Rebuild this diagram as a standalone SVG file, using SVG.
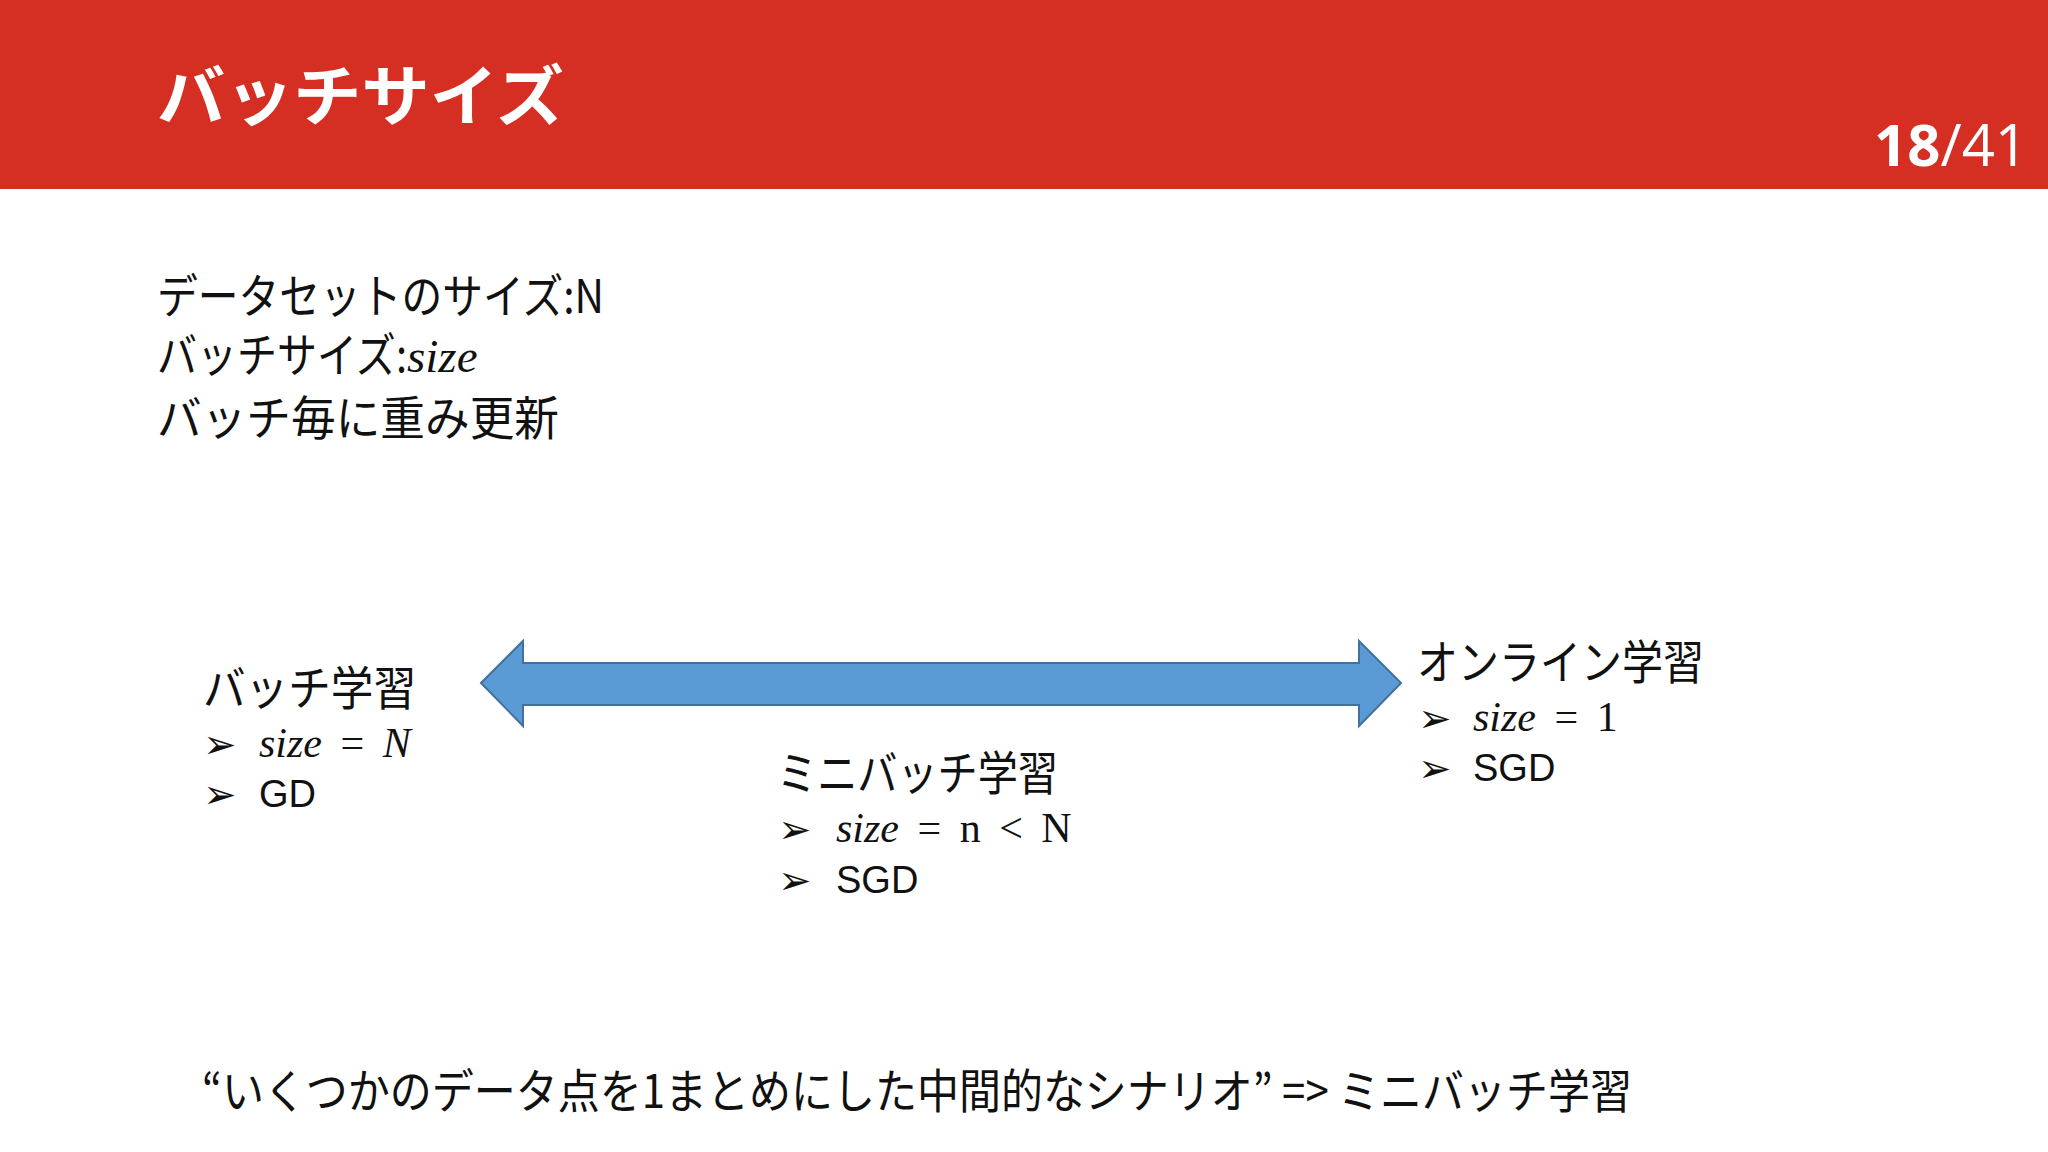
<svg xmlns="http://www.w3.org/2000/svg" width="2048" height="1152" viewBox="0 0 2048 1152">
<style>
.j{font-family:"Noto Sans CJK JP","Noto Sans",sans-serif;fill:#111}
.b{font-size:47px}
.m{font-family:"Liberation Serif",serif;font-style:italic;font-size:42px;fill:#111;word-spacing:8px}
.s{font-family:"Liberation Sans",sans-serif;font-size:38px;fill:#111}
.k{font-family:"DejaVu Sans",sans-serif;font-size:40px;fill:#111}
</style>
<rect width="2048" height="1152" fill="#fff"/>
<g id="header">
<rect width="2048" height="189" fill="#D52E22"/>
<text x="157" y="120" class="j" style="fill:#fff;font-size:66px;font-weight:bold" textLength="407" lengthAdjust="spacingAndGlyphs">バッチサイズ</text>
<text x="2028" y="166" text-anchor="end" style="font-family:'Open Sans',sans-serif;font-size:58px;fill:#fff"><tspan font-weight="bold">18</tspan>/41</text>
</g>
<g id="intro">
<text x="157" y="313" class="j b" textLength="447" lengthAdjust="spacingAndGlyphs">データセットのサイズ:N</text>
<text x="157" y="372" class="j b"><tspan textLength="250" lengthAdjust="spacingAndGlyphs">バッチサイズ:</tspan><tspan style="font-family:'Liberation Serif',serif;font-style:italic">size</tspan></text>
<text x="157" y="435" class="j b" textLength="402" lengthAdjust="spacingAndGlyphs">バッチ毎に重み更新</text>
</g>
<g id="connectors">
<polygon points="481,683 523,641 523,663 1359,663 1359,641 1401,683 1359,726 1359,705 523,705 523,726" fill="#5B9BD5" stroke="#41719C" stroke-width="2"/>
</g>
<g id="batch">
<text x="203" y="705" class="j b" textLength="213" lengthAdjust="spacingAndGlyphs">バッチ学習</text>
<text x="203" y="758" class="k">➢</text><text x="259" y="757" class="m">size <tspan font-style="normal">=</tspan> N</text>
<text x="203" y="808" class="k">➢</text><text x="259" y="807" class="s">GD</text>
</g>
<g id="minibatch">
<text x="777" y="790" class="j b" textLength="281" lengthAdjust="spacingAndGlyphs">ミニバッチ学習</text>
<text x="778" y="843" class="k">➢</text><text x="836" y="842" class="m">size <tspan font-style="normal">= n &lt; N</tspan></text>
<text x="778" y="894" class="k">➢</text><text x="836" y="893" class="s">SGD</text>
</g>
<g id="online">
<text x="1417" y="679" class="j b" textLength="287" lengthAdjust="spacingAndGlyphs">オンライン学習</text>
<text x="1418" y="732" class="k">➢</text><text x="1473" y="731" class="m">size <tspan font-style="normal">= 1</tspan></text>
<text x="1418" y="782" class="k">➢</text><text x="1473" y="781" class="s">SGD</text>
</g>
<g id="footer">
<text x="202" y="1108" class="j b" textLength="1430" lengthAdjust="spacingAndGlyphs">“いくつかのデータ点を1まとめにした中間的なシナリオ” =&gt; ミニバッチ学習</text>
</g>
</svg>
